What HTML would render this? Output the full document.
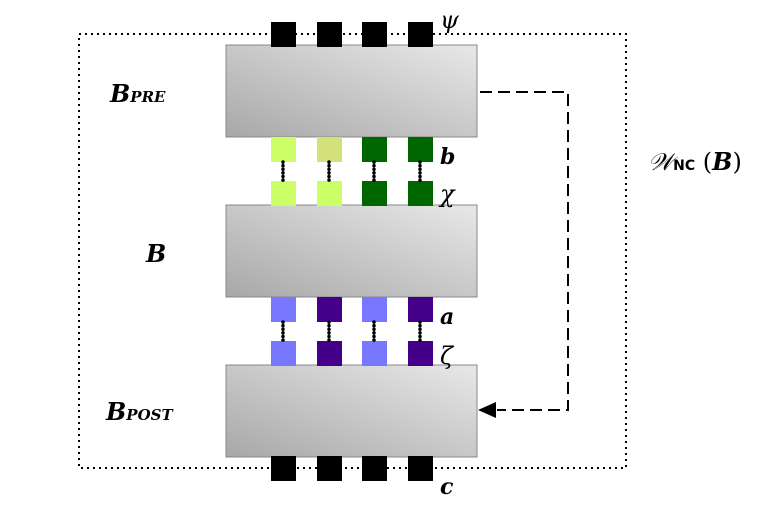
<!DOCTYPE html><html><head><style>body{margin:0;background:#fff}</style></head><body>
<svg width="780" height="500" xmlns="http://www.w3.org/2000/svg" font-family="DejaVu Serif, serif">
<defs><linearGradient id="g" x1="0" y1="1" x2="1" y2="0"><stop offset="0" stop-color="#a8a8a8"/><stop offset="1" stop-color="#e8e8e8"/></linearGradient></defs>
<rect x="79" y="34" width="547" height="434" fill="none" stroke="#000" stroke-width="2" stroke-dasharray="2,4"/>
<g stroke="#888" fill="url(#g)"><rect x="226" y="45" width="251" height="92"/><rect x="226" y="205" width="251" height="92"/><rect x="226" y="365" width="251" height="92"/></g>
<g fill="#000"><rect x="271" y="22" width="25" height="25"/><rect x="317" y="22" width="25" height="25"/><rect x="362" y="22" width="25" height="25"/><rect x="408" y="22" width="25" height="25"/>
<rect x="271" y="456" width="25" height="25"/><rect x="317" y="456" width="25" height="25"/><rect x="362" y="456" width="25" height="25"/><rect x="408" y="456" width="25" height="25"/></g>
<rect x="271" y="137" width="25" height="25" fill="#ccff66"/><rect x="317" y="137" width="25" height="25" fill="#d4e07a"/><rect x="362" y="137" width="25" height="25" fill="#006600"/><rect x="408" y="137" width="25" height="25" fill="#006600"/>
<rect x="271" y="181" width="25" height="25" fill="#ccff66"/><rect x="317" y="181" width="25" height="25" fill="#ccff66"/><rect x="362" y="181" width="25" height="25" fill="#006600"/><rect x="408" y="181" width="25" height="25" fill="#006600"/>
<rect x="271" y="297" width="25" height="25" fill="#7777ff"/><rect x="317" y="297" width="25" height="25" fill="#440088"/><rect x="362" y="297" width="25" height="25" fill="#7777ff"/><rect x="408" y="297" width="25" height="25" fill="#440088"/>
<rect x="271" y="341" width="25" height="25" fill="#7777ff"/><rect x="317" y="341" width="25" height="25" fill="#440088"/><rect x="362" y="341" width="25" height="25" fill="#7777ff"/><rect x="408" y="341" width="25" height="25" fill="#440088"/>
<g stroke="#000" stroke-width="3.5" stroke-linecap="round" stroke-dasharray="0.1,3.5"><line x1="283" y1="162" x2="283" y2="181"/><line x1="329" y1="162" x2="329" y2="181"/><line x1="374" y1="162" x2="374" y2="181"/><line x1="420" y1="162" x2="420" y2="181"/>
<line x1="283" y1="322" x2="283" y2="341"/><line x1="329" y1="322" x2="329" y2="341"/><line x1="374" y1="322" x2="374" y2="341"/><line x1="420" y1="322" x2="420" y2="341"/></g>
<polyline points="480,92 568,92 568,410 497,410" fill="none" stroke="#000" stroke-width="2" stroke-dasharray="12,6"/>
<polygon points="478,410 496,402 496,418" fill="#000"/>
<g font-style="italic" font-weight="bold">
<text x="110" y="102" font-size="24">B<tspan font-size="15">PRE</tspan></text>
<text x="146" y="262" font-size="24">B</text>
<text x="106" y="420" font-size="24">B<tspan font-size="15">POST</tspan></text>
<text x="440" y="164" font-size="22">b</text>
<text x="440" y="324" font-size="22">a</text>
<text x="440" y="494" font-size="22">c</text>
</g>
<g font-style="italic" font-size="24">
<text x="440" y="28">ψ</text><text x="440" y="202">χ</text><text x="440" y="364">ζ</text>
<text x="648" y="170" font-size="24">𝒲<tspan font-family="DejaVu Sans" font-style="normal" font-size="14" font-weight="bold">NC</tspan> <tspan font-style="normal">(</tspan><tspan font-weight="bold">B</tspan><tspan font-style="normal">)</tspan></text>
</g>
</svg></body></html>
